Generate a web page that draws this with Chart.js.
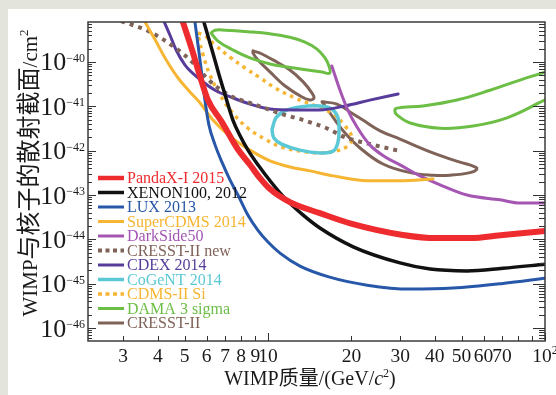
<!DOCTYPE html>
<html><head><meta charset="utf-8">
<script src="https://cdn.jsdelivr.net/npm/chart.js@4.4.1/dist/chart.umd.min.js"></script>
<style>html,body{margin:0;padding:0;background:#e3e5dc;}canvas{display:block;}</style>
</head><body>
<canvas id="c" width="556" height="395"></canvas>
<script>
// ---- data: [WIMP mass (GeV/c^2), cross section (cm^2)] ----
const pandax = [[4.93,7.9e-40],[5.32,1.86e-40],[5.68,4.8e-41],[6.07,1.39e-41],[6.82,4.4e-42],[7.73,1.15e-42],[8.61,4.8e-43],[9.36,2.4e-43],[10.17,1.36e-43],[12.0,6.9e-44],[15.4,3.9e-44],[19.8,2.3e-44],[30.7,1.26e-44],[40.7,1.07e-44],[53.6,1.07e-44],[70.5,1.26e-44],[100,1.55e-44]];
const xenon100 = [[5.87,7.9e-40],[6.28,1.86e-40],[6.66,5.1e-41],[7.05,1.55e-41],[7.47,4.9e-42],[7.92,2.2e-42],[8.47,1.03e-42],[9.20,4.8e-43],[10.17,2.1e-43],[11.5,8.5e-44],[13.27,3.7e-44],[15.4,1.8e-44],[20.3,6.8e-45],[29.96,2.95e-45],[38.5,2.14e-45],[52.3,1.95e-45],[70.5,2.24e-45],[100,2.75e-45]];
const lux = [[5.45,7.9e-40],[5.59,2.4e-40],[5.73,7.3e-41],[5.92,1.39e-41],[6.12,3.8e-42],[6.44,1.35e-42],[6.82,5.5e-43],[7.29,2.2e-43],[7.79,1.0e-43],[8.47,3.5e-44],[9.20,1.6e-44],[10,8.7e-45],[11.05,4.9e-45],[13.05,2.5e-45],[16.7,1.41e-45],[22.8,9.3e-46],[32.6,7.6e-46],[46.5,8.0e-46],[70.5,1.02e-45],[100,1.34e-45]];
const superCDMS = [[3.60,7.9e-40],[3.91,3.2e-40],[4.25,1.23e-40],[4.73,4.4e-41],[5.23,2.1e-41],[5.68,1.2e-41],[6.33,4.9e-42],[7.29,2.1e-42],[8.61,1.03e-42],[10.17,5.9e-43],[12.0,4.3e-43],[14.18,3.5e-43],[17.2,2.7e-43],[22.8,2.1e-43],[29.96,2.1e-43],[39.4,2.3e-43]];
const darkSide = [[17.0,8.1e-41],[18.2,2.3e-41],[19.4,8.3e-42],[20.96,3.4e-42],[23.3,1.35e-42],[26.5,7.2e-43],[29.96,4.8e-43],[35.4,2.7e-43],[41.8,1.7e-43],[52.3,1.0e-43],[68.8,7.8e-44],[81.3,6.6e-44],[100,6.6e-44]];
const cresstNew = [[2.95,8.3e-40],[3.69,5.0e-40],[4.62,2.1e-40],[5.32,1.0e-40],[5.92,4.8e-41],[6.60,2.6e-41],[7.47,1.62e-41],[8.61,1.19e-41],[9.75,9.1e-42],[11.2,6.7e-42],[13.4,4.9e-42],[16.3,3.2e-42],[18.97,2.0e-42],[23.3,1.41e-42],[29.96,9.8e-43]];
const cdex = [[4.21,8.3e-40],[4.43,4.0e-40],[4.66,1.86e-40],[5.02,8.5e-41],[5.59,4.4e-41],[6.44,2.3e-41],[7.47,1.55e-41],[8.61,1.12e-41],[10.17,8.7e-42],[12.5,8.3e-42],[15.4,8.3e-42],[18.97,1.02e-41],[23.3,1.38e-41],[29.5,1.9e-41]];
const cogent = [[10.34,2.95e-42],[10.69,5.5e-42],[11.5,7.9e-42],[13.05,9.7e-42],[15.4,1.02e-41],[17.0,8.7e-42],[17.9,5.5e-42],[18.05,2.95e-42],[17.9,1.58e-42],[17.2,9.8e-43],[15.4,8.9e-43],[13.05,1.03e-42],[11.2,1.41e-42],[10.5,1.94e-42],[10.34,2.95e-42]];
const cdmsSi = [[5.59,4.5e-40],[5.92,3.9e-40],[6.44,2.4e-40],[7.29,1.29e-40],[8.26,7.3e-41],[9.36,4.4e-41],[10.6,2.6e-41],[12.5,1.55e-41],[14.8,1.02e-41],[17.2,6.7e-42],[18.97,3.6e-42],[20.1,1.94e-42],[19.4,1.27e-42],[17.5,9.8e-43],[15.2,8.9e-43],[13.05,9.8e-43],[11.2,1.2e-42],[9.75,1.82e-42],[8.47,3.2e-42],[7.41,7.4e-42],[6.71,1.82e-41],[6.17,5.1e-41],[5.83,1.44e-40],[5.64,3.2e-40],[5.59,4.5e-40]];
const damaLow = [[6.23,4.5e-40],[6.44,5.2e-40],[7.0,5.2e-40],[8.47,4.8e-40],[10.17,4.3e-40],[12.0,3.6e-40],[13.6,2.8e-40],[15.03,1.95e-40],[16.06,1.23e-40],[16.6,8.1e-41],[16.7,5.6e-41],[15.67,5.9e-41],[13.9,6.6e-41],[11.7,7.7e-41],[10.17,9.0e-41],[8.61,1.23e-40],[7.47,1.86e-40],[6.60,2.95e-40],[6.23,4.5e-40]];
const damaHigh = [[100,5.9e-41],[79.2,3.7e-41],[63.3,2.3e-41],[48.1,1.39e-41],[36.3,1.02e-41],[29.2,9.1e-42],[28.7,7.9e-42],[29.2,6.4e-42],[32.6,4.2e-42],[41.8,3.2e-42],[55.0,3.6e-42],[72.9,5.5e-42],[100,1.39e-41]];
const cresstLow = [[8.83,1.78e-40],[9.51,1.51e-40],[10.42,1.11e-40],[12.0,6.6e-41],[13.4,3.55e-41],[14.4,2.0e-41],[14.66,1.55e-41],[14.18,1.39e-41],[13.27,1.62e-41],[11.5,2.9e-41],[10.17,5.95e-41],[9.2,1.11e-40],[8.83,1.58e-40],[8.83,1.78e-40]];
const cresstHigh = [[15.67,1.26e-41],[17.75,1.12e-41],[20.3,6.7e-42],[22.0,4.9e-42],[25.4,2.8e-42],[29.96,1.82e-42],[39.4,8.9e-43],[49.3,5.5e-43],[55.0,4.5e-43],[56.8,3.9e-43],[53.6,3.2e-43],[45.4,2.8e-43],[39.4,2.8e-43],[32.6,3.2e-43],[26.0,5.0e-43],[21.5,1.15e-42],[18.97,2.5e-42],[17.46,4.9e-42],[16.06,1.02e-41],[15.67,1.26e-41]];

const seriesNames = ['PandaX-I 2015','XENON100, 2012','LUX 2013','SuperCDMS 2014','DarkSide50','CRESST-II new','CDEX 2014','CoGeNT 2014','CDMS-II Si','DAMA 3 sigma','CRESST-II'];
const xTickValues = [3,4,5,6,7,8,9,10,20,30,40,50,60,70,80,90,100];
const xTickLabels = ['3','4','5','6','7','8','9','10','20','30','40','50','60','70','','','10^2'];
const yTickExponents = [-40,-41,-42,-43,-44,-45,-46];
const yMinorMultipliers = [2,3,4,5,6,7,8,9];

const SERIF = '"Liberation Serif","Times New Roman",serif';
const CJK = '"Noto Sans CJK SC",sans-serif';
const toXY = a => a.map(p => ({x:p[0], y:p[1]}));

function ds(label, data, color, width, opts) {
  return Object.assign({label, data: toXY(data), borderColor: color, backgroundColor: color,
    borderWidth: width, showLine: true, pointRadius: 0, pointHoverRadius: 0, clip: 0,
    borderCapStyle: 'round', borderJoinStyle: 'round', fill: false}, opts || {});
}
const mono = {cubicInterpolationMode: 'monotone'};
const loop = {tension: 0.4};
const RED='#ee2b2e', BLK='#111111', BLU='#2757a8', ORG='#f6b532', PUR='#a456b2', BRN='#7f6358', CDX='#573c9b', CYN='#5bc8d6', GRN='#6cbe45';

const datasets = [
  ds(seriesNames[0], pandax, RED, 6, mono),
  ds(seriesNames[1], xenon100, BLK, 3.5, mono),
  ds(seriesNames[2], lux, BLU, 3, mono),
  ds(seriesNames[3], superCDMS, ORG, 3, mono),
  ds(seriesNames[4], darkSide, PUR, 3, mono),
  ds(seriesNames[5], cresstNew, BRN, 4, Object.assign({borderDash:[4,5], borderCapStyle:'butt'}, mono)),
  ds(seriesNames[6], cdex, CDX, 3, mono),
  ds(seriesNames[7], cogent, CYN, 3.5, loop),
  ds(seriesNames[8], cdmsSi, ORG, 3.5, Object.assign({borderDash:[3.5,4.5], borderCapStyle:'butt'}, loop)),
  ds(seriesNames[9], damaLow, GRN, 3, loop),
  ds(seriesNames[9], damaHigh, GRN, 3, loop),
  ds(seriesNames[10], cresstLow, BRN, 3, loop),
  ds(seriesNames[10], cresstHigh, BRN, 3, loop)
];
const legendIndex = [0,1,2,3,4,5,6,7,8,9,11];

function drawRuns(ctx, runs, x, baseline, align) {
  let total = 0;
  runs.forEach(r => { ctx.font = r.font; r.w = ctx.measureText(r.t).width; total += r.w; });
  let cx = align === 'center' ? x - total/2 : (align === 'right' ? x - total : x);
  ctx.textAlign = 'left'; ctx.textBaseline = 'alphabetic';
  runs.forEach(r => { ctx.font = r.font; ctx.fillStyle = r.color || '#1a1a1a'; ctx.fillText(r.t, cx, baseline + (r.dy || 0)); cx += r.w; });
}

const decor = {
  id: 'decor',
  beforeDraw(chart) {
    const c = chart.ctx; c.save();
    c.fillStyle = '#e3e5dc'; c.fillRect(0, 0, chart.width, chart.height);
    c.fillStyle = '#ffffff'; c.fillRect(8, 9, chart.width - 8, chart.height - 9);
    c.restore();
  },
  afterDraw(chart) {
    const ctx = chart.ctx, a = chart.chartArea, xs = chart.scales.x, ys = chart.scales.y;
    ctx.save();
    // frame
    ctx.strokeStyle = '#3c3c3c'; ctx.lineWidth = 1.5; ctx.setLineDash([]);
    ctx.strokeRect(a.left, a.top, a.right - a.left, a.bottom - a.top);
    // y ticks (inward, both sides)
    ctx.lineWidth = 1; ctx.strokeStyle = '#333';
    for (let e = -47; e <= -39; e++) {
      [1].concat(yMinorMultipliers).forEach(m => {
        const v = m * Math.pow(10, e);
        if (v < ys.min || v > ys.max) return;
        const py = Math.round(ys.getPixelForValue(v)) + 0.5, major = m === 1;
        ctx.beginPath();
        ctx.moveTo(a.left, py); ctx.lineTo(a.left + (major ? 8 : 4), py);
        ctx.moveTo(a.right, py); ctx.lineTo(a.right - (major ? 12 : 6), py);
        ctx.stroke();
      });
    }
    // x ticks (inward)
    xTickValues.forEach(v => {
      const px = Math.round(xs.getPixelForValue(v)) + 0.5, major = (v === 10 || v === 100);
      ctx.beginPath(); ctx.moveTo(px, a.bottom); ctx.lineTo(px, a.bottom - (major ? 8 : 5)); ctx.stroke();
    });
    // y tick labels
    yTickExponents.forEach(e => {
      const py = ys.getPixelForValue(Math.pow(10, e));
      drawRuns(ctx, [
        {t: '10', font: '26px ' + SERIF, dy: 8.5},
        {t: '\u2212' + Math.abs(e), font: '12px ' + SERIF, dy: 0}
      ], a.left - 3, py, 'right');
    });
    // x tick labels
    xTickValues.forEach((v, i) => {
      const lab = xTickLabels[i]; if (!lab) return;
      const px = xs.getPixelForValue(v);
      if (lab.indexOf('^') > 0) {
        const parts = lab.split('^');
        drawRuns(ctx, [{t: parts[0], font: '19.5px ' + SERIF}, {t: parts[1], font: '12px ' + SERIF, dy: -8}], px, 362, 'center');
      } else {
        drawRuns(ctx, [{t: lab, font: '19.5px ' + SERIF}], px, 362, 'center');
      }
    });
    // x title
    drawRuns(ctx, [
      {t: 'WIMP', font: '20px ' + SERIF},
      {t: '质量', font: '20px ' + CJK},
      {t: '/(GeV/', font: '20px ' + SERIF},
      {t: 'c', font: 'italic 20px ' + SERIF},
      {t: '2', font: '12px ' + SERIF, dy: -8},
      {t: ')', font: '20px ' + SERIF}
    ], 310, 385, 'center');
    // y title
    ctx.save(); ctx.translate(37, 173); ctx.rotate(-Math.PI/2);
    drawRuns(ctx, [
      {t: 'WIMP', font: '21px ' + SERIF},
      {t: '与核子的散射截面', font: '24px ' + CJK},
      {t: '/cm', font: '21px ' + SERIF},
      {t: '2', font: '13px ' + SERIF, dy: -9}
    ], 0, 0, 'center');
    ctx.restore();
    // legend
    legendIndex.forEach((di, k) => {
      const d = chart.data.datasets[di];
      const yy = 178 + k * 14.5;
      ctx.strokeStyle = d.borderColor; ctx.lineWidth = Math.min(d.borderWidth, 4.5);
      ctx.setLineDash(d.borderDash ? [4, 3.5] : []);
      ctx.lineCap = 'butt';
      ctx.beginPath(); ctx.moveTo(98, yy); ctx.lineTo(124, yy); ctx.stroke();
      ctx.setLineDash([]);
      ctx.font = '16px ' + SERIF; ctx.fillStyle = d.borderColor; ctx.textAlign = 'left'; ctx.textBaseline = 'middle';
      ctx.fillText(seriesNames[k], 127, yy + 1);
    });
    ctx.restore();
  }
};

new Chart(document.getElementById('c'), {
  type: 'scatter',
  data: {datasets},
  options: {
    responsive: false, animation: false, devicePixelRatio: 1,
    layout: {padding: {left: 0, top: 22, right: 11, bottom: 0}},
    plugins: {legend: {display: false}, tooltip: {enabled: false}},
    scales: {
      x: {type: 'logarithmic', position: 'bottom', min: 2.24, max: 100,
          ticks: {display: false}, grid: {display: false}, border: {display: false},
          afterFit: s => { s.height = 54; }},
      y: {type: 'logarithmic', position: 'left', min: Math.pow(10, -46.29), max: Math.pow(10, -39.1),
          ticks: {display: false}, grid: {display: false}, border: {display: false},
          afterFit: s => { s.width = 88; }}
    }
  },
  plugins: [decor]
});
</script></body></html>
